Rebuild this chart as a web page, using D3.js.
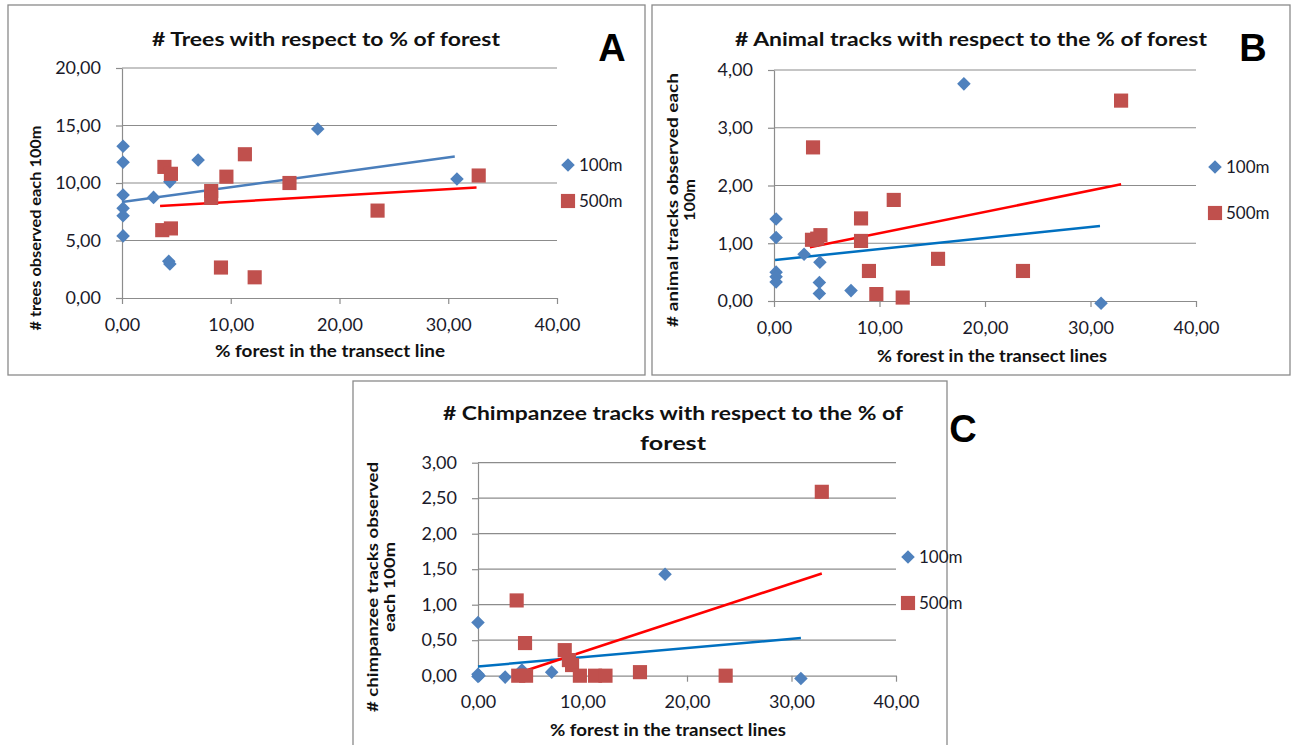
<!DOCTYPE html>
<html>
<head>
<meta charset="utf-8">
<script src="https://cdn.jsdelivr.net/npm/d3@7"></script>
<style>
  body { margin: 0; background: #fff; }
  svg { font-family: Lato, "Open Sans", sans-serif; }
</style>
</head>
<body>
<svg id="fig" width="1295" height="745"></svg>
<script>
// ---- data ----
const xTicks = [0, 10, 20, 30, 40];
const treesTicks = [0, 5, 10, 15, 20];
const animalTicks = [0, 1, 2, 3, 4];
const chimpTicks = [0, 0.5, 1, 1.5, 2, 2.5, 3];
const seriesNames = ["100m", "500m"];

// A: trees per 100m vs % forest
const trees100 = [[0.1, 13.2], [0.1, 11.8], [0.1, 8.95], [0.1, 7.8], [0.1, 7.15], [0.1, 5.4],
  [2.9, 8.75], [4.3, 3.2], [4.4, 2.95], [4.4, 10.1], [7.0, 12.0], [18.0, 14.7], [30.8, 10.35]];
const trees500 = [[3.9, 11.4], [4.5, 10.8], [9.6, 10.55], [11.3, 12.5], [8.2, 9.3], [8.2, 8.7],
  [3.7, 5.9], [4.5, 6.05], [9.1, 2.65], [12.2, 1.8], [15.4, 10.0], [23.5, 7.6], [32.8, 10.65]];
const treesTrend100 = [[0, 8.35], [30.6, 12.3]];
const treesTrend500 = [[3.5, 8.0], [32.6, 9.6]];

// B: animal tracks
const animal100 = [[0.2, 1.42], [0.2, 1.1], [0.2, 0.5], [0.2, 0.42], [0.2, 0.33], [2.85, 0.81],
  [4.35, 0.67], [4.3, 0.32], [4.3, 0.13], [7.3, 0.18], [18.0, 3.76], [31.0, -0.04]];
const animal500 = [[3.7, 2.66], [3.6, 1.06], [4.4, 1.14], [4.1, 1.08], [8.25, 1.43], [8.25, 1.04],
  [9.0, 0.52], [9.7, 0.12], [11.35, 1.75], [12.2, 0.06], [15.55, 0.73], [23.6, 0.52], [32.9, 3.47]];
const animalTrend100 = [[0.1, 0.71], [30.9, 1.30]];
const animalTrend500 = [[3.4, 0.93], [32.9, 2.02]];

// C: chimpanzee tracks
const chimp100 = [[0, 0.75], [0, 0.02], [0.1, 0], [0, -0.01], [2.6, -0.02], [4.2, 0.08],
  [7.05, 0.05], [17.9, 1.43], [30.9, -0.04]];
const chimp500 = [[3.7, 1.06], [4.5, 0.46], [3.85, 0], [4.6, 0], [8.3, 0.36], [8.7, 0.22],
  [9.0, 0.15], [9.75, 0], [11.2, 0], [12.2, 0], [15.5, 0.05], [23.7, 0], [32.9, 2.59]];
const chimpTrend100 = [[0, 0.13], [30.9, 0.53]];
const chimpTrend500 = [[3.5, 0.02], [32.9, 1.44]];

// ---- drawing ----
const svg = d3.select("#fig");
svg.append("rect").attr("width", 1295).attr("height", 745).attr("fill", "#fff");

const locale = d3.formatLocale({ decimal: ",", thousands: ".", grouping: [3], currency: ["", ""] });
const fmt = locale.format(".2f");

const gridColor = "#8c8c8c";
const blue = "#4f81bd", red = "#c0504d";

const panels = [
  {
    box: [8, 5, 645, 375], xr: [122, 557], yr: [298, 68], ymax: 20, yTicks: treesTicks,
    title: ["# Trees with respect to % of forest"], titleX: 326, titleY: 46, titleW: [348],
    letter: "A", letterX: 612, letterY: 61,
    xTitle: "% forest in the transect line", xTitleX: 330, xTitleY: 357, xTitleW: 230,
    yTitle: ["# trees observed each 100m"], yTitleX: 35, yTitleY: 228, yTitleW: [205],
    legend: [568, 165, 201],
    s100: trees100, s500: trees500, t100: treesTrend100, t500: treesTrend500, trendBlue: "#4a7ebb"
  },
  {
    box: [652, 5, 1290, 375], xr: [774, 1196], yr: [301, 70], ymax: 4, yTicks: animalTicks,
    title: ["# Animal tracks with respect to the % of forest"], titleX: 971, titleY: 46, titleW: [472],
    letter: "B", letterX: 1253, letterY: 61,
    xTitle: "% forest in the transect lines", xTitleX: 992, xTitleY: 362, xTitleW: 230,
    yTitle: ["# animal tracks observed each", "100m"], yTitleX: 672, yTitleY: 200, yTitleW: [254, 42],
    legend: [1215, 167, 213],
    s100: animal100, s500: animal500, t100: animalTrend100, t500: animalTrend500, trendBlue: "#0070c0"
  },
  {
    box: [353, 381, 947, 760], xr: [478, 896], yr: [675.7, 462.7], ymax: 3, yTicks: chimpTicks,
    title: ["# Chimpanzee tracks with respect to the % of", "forest"], titleX: 673, titleY: 420, titleW: [460, 66],
    letter: "C", letterX: 963, letterY: 442,
    xTitle: "% forest in the transect lines", xTitleX: 668, xTitleY: 736, xTitleW: 236,
    yTitle: ["# chimpanzee tracks observed", "each 100m"], yTitleX: 372, yTitleY: 587, yTitleW: [250, 90],
    legend: [908, 557, 603],
    s100: chimp100, s500: chimp500, t100: chimpTrend100, t500: chimpTrend500, trendBlue: "#0070c0"
  }
];

function drawPanel(p) {
  const g = svg.append("g");
  const [bx0, by0, bx1, by1] = p.box;
  g.append("rect")
    .attr("x", bx0).attr("y", by0)
    .attr("width", bx1 - bx0).attr("height", by1 - by0)
    .attr("fill", "#fff")
    .attr("stroke", "#8a8a8a").attr("stroke-width", 1.3);

  const x = d3.scaleLinear().domain([0, 40]).range(p.xr);
  const y = d3.scaleLinear().domain([0, p.ymax]).range(p.yr);

  // gridlines
  g.append("g").selectAll("line")
    .data(p.yTicks.filter(d => d > 0))
    .join("line")
    .attr("x1", p.xr[0]).attr("x2", p.xr[1])
    .attr("y1", d => y(d)).attr("y2", d => y(d))
    .attr("stroke", gridColor).attr("stroke-width", 1.2);

  const yAxis = g.append("g")
    .attr("transform", `translate(${p.xr[0]},0)`)
    .call(d3.axisLeft(y).tickValues(p.yTicks).tickSize(6).tickSizeOuter(0).tickPadding(15).tickFormat(fmt));
  const xAxis = g.append("g")
    .attr("transform", `translate(0,${p.yr[0]})`)
    .call(d3.axisBottom(x).tickValues(xTicks).tickSize(6).tickSizeOuter(0).tickPadding(14).tickFormat(fmt));

  [xAxis, yAxis].forEach(ax => {
    ax.select(".domain").attr("stroke", gridColor).attr("stroke-width", 1.2);
    ax.selectAll(".tick line").attr("stroke", gridColor).attr("stroke-width", 1.2);
    ax.selectAll(".tick text")
      .attr("fill", "#1a1a2a")
      .style("font-size", "18px")
      .style("font-family", "Lato, sans-serif");
  });

  // trendlines
  const line = d3.line().x(d => x(d[0])).y(d => y(d[1]));
  g.append("path").datum(p.t100).attr("d", line)
    .attr("fill", "none").attr("stroke", p.trendBlue).attr("stroke-width", 2.5);
  g.append("path").datum(p.t500).attr("d", line)
    .attr("fill", "none").attr("stroke", "#ff0000").attr("stroke-width", 2.5);

  const diamond = d3.symbol(d3.symbolSquare, 92)();
  const square = d3.symbol(d3.symbolSquare, 200)();

  g.append("g").selectAll("path")
    .data(p.s100)
    .join("path")
    .attr("d", diamond)
    .attr("transform", d => `translate(${x(d[0])},${y(d[1])}) rotate(45)`)
    .attr("fill", blue);

  g.append("g").selectAll("path")
    .data(p.s500)
    .join("path")
    .attr("d", square)
    .attr("transform", d => `translate(${x(d[0])},${y(d[1])})`)
    .attr("fill", red);

  // titles
  p.title.forEach((t, i) => {
    g.append("text")
      .attr("x", p.titleX).attr("y", p.titleY + i * 30)
      .attr("text-anchor", "middle")
      .attr("font-weight", "bold").attr("font-size", "19px")
      .attr("textLength", p.titleW[i]).attr("lengthAdjust", "spacingAndGlyphs")
      .attr("fill", "#111")
      .text(t);
  });

  g.append("text")
    .attr("x", p.letterX).attr("y", p.letterY)
    .attr("text-anchor", "middle")
    .attr("font-weight", "bold").attr("font-size", "38px")
    .attr("font-family", "'Liberation Sans', Arial, sans-serif")
    .attr("fill", "#000")
    .text(p.letter);

  g.append("text")
    .attr("x", p.xTitleX).attr("y", p.xTitleY)
    .attr("text-anchor", "middle")
    .attr("font-weight", "bold").attr("font-size", "17px")
    .attr("textLength", p.xTitleW).attr("lengthAdjust", "spacingAndGlyphs")
    .attr("fill", "#111")
    .text(p.xTitle);

  const yt = g.append("g")
    .attr("transform", `translate(${p.yTitleX},${p.yTitleY}) rotate(-90)`);
  p.yTitle.forEach((t, i) => {
    yt.append("text")
      .attr("x", 0).attr("y", 6 + i * 17)
      .attr("text-anchor", "middle")
      .attr("font-weight", "bold").attr("font-size", "16px")
      .attr("textLength", p.yTitleW[i]).attr("lengthAdjust", "spacingAndGlyphs")
      .attr("fill", "#111")
      .text(t);
  });

  // legend
  const [lx, ly1, ly2] = p.legend;
  g.append("path").attr("d", diamond)
    .attr("transform", `translate(${lx},${ly1}) rotate(45)`).attr("fill", blue);
  g.append("path").attr("d", square)
    .attr("transform", `translate(${lx},${ly2})`).attr("fill", red);
  [ly1, ly2].forEach((ly, i) => {
    g.append("text")
      .attr("x", lx + 11).attr("y", ly + 6)
      .attr("font-size", "17px")
      .attr("fill", "#1a1a2a")
      .text(seriesNames[i]);
  });
}

drawPanel(panels[0]);
drawPanel(panels[1]);
drawPanel(panels[2]);
</script>
</body>
</html>
